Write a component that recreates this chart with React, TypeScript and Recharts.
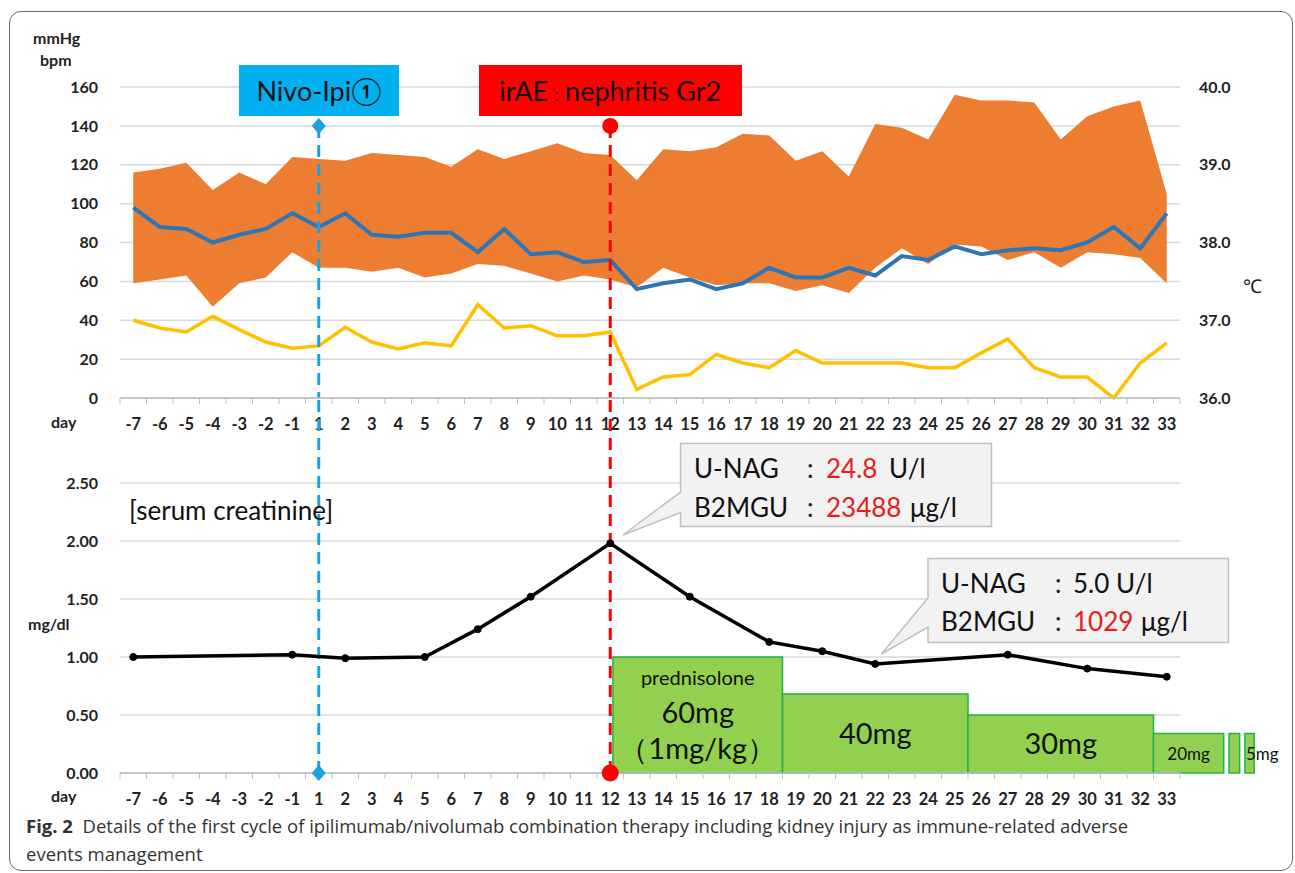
import React from 'react';
import {
  ComposedChart,
  Area,
  Line,
  XAxis,
  YAxis,
  CartesianGrid,
  ReferenceLine,
  ReferenceDot,
  ReferenceArea,
} from 'recharts';

// x axis: hospital days (there is no day 0)
const days = [
  -7, -6, -5, -4, -3, -2, -1, 1, 2, 3, 4, 5, 6, 7, 8, 9, 10, 11, 12, 13,
  14, 15, 16, 17, 18, 19, 20, 21, 22, 23, 24, 25, 26, 27, 28, 29, 30, 31, 32, 33,
];

// mmHg
const systolic = [
  116, 118, 121, 107, 116, 110, 124, 123, 122, 126, 125, 124, 119, 128, 123, 127, 131, 126, 125, 112,
  128, 127, 129, 136, 135, 122, 127, 114, 141, 139, 133, 156, 153, 153, 152, 133, 145, 150, 153, 105,
];
const diastolic = [
  59, 61, 63, 47, 59, 62, 75, 67, 67, 65, 67, 62, 64, 69, 68, 64, 60, 63, 61, 57,
  67, 62, 58, 59, 59, 55, 58, 54, 67, 77, 69, 79, 78, 71, 75, 67, 75, 74, 72, 59,
];
// bpm
const pulse = [
  98, 88, 87, 80, 84, 87, 95, 88, 95, 84, 83, 85, 85, 75, 87, 74, 75, 70, 71, 56,
  59, 61, 56, 59, 67, 62, 62, 67, 63, 73, 71, 78, 74, 76, 77, 76, 80, 88, 77, 95,
];
// ℃
const temperature = [
  37.0, 36.9, 36.85, 37.05, 36.88, 36.72, 36.64, 36.67, 36.91, 36.72, 36.63, 36.71, 36.67, 37.2, 36.9, 36.93, 36.8, 36.8, 36.85, 36.11,
  36.27, 36.3, 36.56, 36.45, 36.39, 36.61, 36.45, 36.45, 36.45, 36.45, 36.39, 36.39, 36.58, 36.76, 36.39, 36.27, 36.27, 36.0, 36.45, 36.71,
];

// serum creatinine, mg/dl
const creatDays = [-7, -1, 2, 5, 7, 9, 12, 15, 18, 20, 22, 27, 30, 33];
const creatValues = [1.0, 1.02, 0.99, 1.0, 1.24, 1.52, 1.98, 1.52, 1.13, 1.05, 0.94, 1.02, 0.9, 0.83];

// prednisolone taper (day spans, block heights on the mg/dl scale)
const steroidLabels = ['60mg', '40mg', '30mg', '20mg', '', '5mg'];
const steroidFrom = [12.1, 18.5, 25.5, 32.5, 35.35, 35.95];
const steroidTo = [18.5, 25.5, 32.5, 35.15, 35.75, 36.3];
const steroidLevel = [1.0, 0.68, 0.5, 0.34, 0.34, 0.34];

const eventDays = [1, 12];
const eventLabels = ['Nivo-Ipi①', 'irAE：nephritis Gr2'];
const eventColors = ['#1ba1e2', '#ff0000'];

const bpTicks = [0, 20, 40, 60, 80, 100, 120, 140, 160];
const tempTicks = [36, 37, 38, 39, 40];
const creatTicks = [0, 0.5, 1, 1.5, 2, 2.5];

const FONT = "Lato, 'Noto Sans', sans-serif";
const W = 1295;
const PLOT_L = 120;
const PLOT_R = 1180;
const BAND = (PLOT_R - PLOT_L) / days.length;

const pos = (d: number) => (d < 0 ? d + 7 : d + 6);
const xPix = (d: number) => PLOT_L + BAND * (pos(d) + 0.5);

const vitalRows = days.map((d, i) => ({
  pos: i,
  bp: [diastolic[i], systolic[i]],
  pulse: pulse[i],
  temp: temperature[i],
}));

const creatRows = days.map((d, i) => {
  const k = creatDays.indexOf(d);
  return { pos: i, creat: k >= 0 ? creatValues[k] : null };
});

const DayTick = (props: any) => {
  const { x, y, payload } = props;
  const i = payload.value;
  const axisY = y - 6;
  return (
    <g>
      <line x1={x - BAND / 2} x2={x - BAND / 2} y1={axisY} y2={axisY + 6} stroke="#bfbfbf" />
      {i === days.length - 1 && (
        <line x1={x + BAND / 2} x2={x + BAND / 2} y1={axisY} y2={axisY + 6} stroke="#bfbfbf" />
      )}
      <text x={x} y={axisY + 32} textAnchor="middle" fontFamily={FONT} fontWeight="bold" fontSize={16.5} fill="#222">
        {days[i]}
      </text>
    </g>
  );
};

const axisTick = { fontFamily: FONT, fontWeight: 'bold' as const, fontSize: 16, fill: '#222' };

const diamond = (color: string) => (p: any) => (
  <polygon
    points={`${p.cx},${p.cy - 8} ${p.cx + 7},${p.cy} ${p.cx},${p.cy + 8} ${p.cx - 7},${p.cy}`}
    fill={color}
  />
);

const BlockText = ({ viewBox, label }: any) => {
  const { x, y, width, height } = viewBox;
  const cx = x + width / 2;
  if (label === '60mg') {
    return (
      <g fontFamily={FONT} fill="#111" textAnchor="middle">
        <text x={cx} y={y + 28} fontSize={20}>prednisolone</text>
        <text x={cx} y={y + 66} fontSize={29}>60mg</text>
        <text x={cx} y={y + 102} fontSize={29}>（1mg/kg）</text>
      </g>
    );
  }
  if (label === '5mg') {
    return (
      <text x={x + 1} y={y + height / 2 + 7} fontFamily={FONT} fontSize={17} fill="#111">
        {label}
      </text>
    );
  }
  const small = label === '20mg';
  return (
    <text x={cx} y={y + height / 2 + (small ? 7 : 10)} textAnchor="middle" fontFamily={FONT} fontSize={small ? 17 : 29} fill="#111">
      {label}
    </text>
  );
};

const xAxisProps = {
  dataKey: 'pos',
  type: 'number' as const,
  domain: [-0.5, days.length - 0.5],
  ticks: days.map((_, i) => i),
  interval: 0 as const,
  tick: (p: any) => <DayTick {...p} />,
  tickLine: false,
  tickSize: 6,
  tickMargin: 0,
  axisLine: { stroke: '#bfbfbf', strokeWidth: 1.5 },
  height: 40,
  allowDataOverflow: true,
};

const VitalChart = () => (
  <ComposedChart width={W} height={440} data={vitalRows} margin={{ top: 87, right: 35, left: 0, bottom: 2 }}>
    <CartesianGrid vertical={false} stroke="#d9d9d9" strokeWidth={1.5} />
    <XAxis {...xAxisProps} />
    <YAxis domain={[0, 160]} ticks={bpTicks} width={120} tickLine={false} axisLine={false} tickMargin={16} tick={axisTick} />
    <YAxis
      yAxisId="right"
      orientation="right"
      domain={[36, 40]}
      ticks={tempTicks}
      tickFormatter={(v: number) => v.toFixed(1)}
      width={80}
      tickLine={false}
      axisLine={false}
      tickMargin={13}
      tick={axisTick}
    />
    <Area dataKey="bp" type="linear" fill="#ed7d31" fillOpacity={1} stroke="none" isAnimationActive={false} />
    <Line dataKey="pulse" type="linear" stroke="#2e75b6" strokeWidth={4} dot={false} isAnimationActive={false} />
    <Line dataKey="temp" yAxisId="right" type="linear" stroke="#ffc000" strokeWidth={3.5} dot={false} isAnimationActive={false} />
    {eventDays.map((d, k) => (
      <ReferenceLine
        key={`top-line-${d}`}
        segment={[{ x: pos(d), y: 140 }, { x: pos(d), y: 0 }]}
        stroke={eventColors[k]}
        strokeWidth={3}
        strokeDasharray="12 7"
        ifOverflow="visible"
      />
    ))}
    <ReferenceDot x={pos(eventDays[0])} y={140} ifOverflow="visible" shape={diamond(eventColors[0])} />
    <ReferenceDot x={pos(eventDays[1])} y={140} r={8} fill={eventColors[1]} stroke="none" ifOverflow="visible" />
  </ComposedChart>
);

const CreatinineChart = () => (
  <ComposedChart width={W} height={820} data={creatRows} margin={{ top: 483, right: 115, left: 0, bottom: 7 }}>
    <CartesianGrid vertical={false} stroke="#d9d9d9" strokeWidth={1.5} />
    <XAxis {...xAxisProps} />
    <YAxis
      domain={[0, 2.5]}
      ticks={creatTicks}
      tickFormatter={(v: number) => v.toFixed(2)}
      width={120}
      tickLine={false}
      axisLine={false}
      tickMargin={16}
      tick={axisTick}
    />
    {steroidLabels.map((label, k) => (
      <ReferenceArea
        key={`pred-${k}`}
        x1={pos(steroidFrom[k])}
        x2={pos(steroidTo[k])}
        y1={0}
        y2={steroidLevel[k]}
        fill="#92d050"
        fillOpacity={1}
        stroke="#22b14c"
        strokeWidth={1.5}
        ifOverflow="visible"
        label={(p: any) => <BlockText viewBox={p.viewBox} label={label} />}
      />
    ))}
    {eventDays.map((d, k) => (
      <ReferenceLine
        key={`bottom-line-${d}`}
        segment={[{ x: pos(d), y: 0 }, { x: pos(d), y: 3.25 }]}
        stroke={eventColors[k]}
        strokeWidth={3}
        strokeDasharray="12 7"
        ifOverflow="visible"
      />
    ))}
    <Line
      dataKey="creat"
      type="linear"
      connectNulls
      stroke="#000"
      strokeWidth={3.5}
      dot={{ r: 3.5, fill: '#000', stroke: '#000', strokeWidth: 1 }}
      isAnimationActive={false}
    />
    <ReferenceDot x={pos(eventDays[0])} y={0} ifOverflow="visible" shape={diamond(eventColors[0])} />
    <ReferenceDot x={pos(eventDays[1])} y={0} r={8.5} fill={eventColors[1]} stroke="none" ifOverflow="visible" />
  </ComposedChart>
);

const red = '#e3201e';

const Overlay = () => (
  <svg width={W} height={873} style={{ position: 'absolute', left: 0, top: 0, pointerEvents: 'none' }}>
    <g fontFamily={FONT} fontWeight="bold" fontSize={16} fill="#222">
      <text x={33} y={44}>mmHg</text>
      <text x={40} y={66}>bpm</text>
      <text x={51} y={428}>day</text>
      <text x={28} y={630}>mg/dl</text>
      <text x={51} y={802}>day</text>
    </g>
    <text x={1243} y={293} fontFamily={FONT} fontSize={19} fill="#222">℃</text>
    <text x={129} y={520} fontFamily={FONT} fontSize={26} fill="#111">[serum creatinine]</text>

    <path
      d="M680.5,443.5 H991.5 V526.5 H680.5 V512.5 L623,535 L680.5,492 Z"
      fill="#f2f2f2"
      stroke="#bfbfbf"
      strokeWidth={1.5}
    />
    <g fontFamily={FONT} fontSize={26} fill="#111">
      <text y={477.5}>
        <tspan x={694}>U-NAG</tspan>
        <tspan x={807}>:</tspan>
        <tspan x={826} fill={red}>24.8</tspan>
        <tspan x={889}>U/l</tspan>
      </text>
      <text y={516.5}>
        <tspan x={694}>B2MGU</tspan>
        <tspan x={807}>:</tspan>
        <tspan x={826} fill={red}>23488</tspan>
        <tspan x={910}>μg/l</tspan>
      </text>
    </g>

    <path
      d="M928,558.5 H1228.5 V642.5 H928 V627 L881.5,654 L928,598 Z"
      fill="#f2f2f2"
      stroke="#bfbfbf"
      strokeWidth={1.5}
    />
    <g fontFamily={FONT} fontSize={26} fill="#111">
      <text y={592.5}>
        <tspan x={941}>U-NAG</tspan>
        <tspan x={1055}>:</tspan>
        <tspan x={1073}>5.0 U/l</tspan>
      </text>
      <text y={631}>
        <tspan x={941}>B2MGU</tspan>
        <tspan x={1055}>:</tspan>
        <tspan x={1073} fill={red}>1029</tspan>
        <tspan x={1141}>μg/l</tspan>
      </text>
    </g>
  </svg>
);

const EventBox = ({ k, width }: { k: number; width: number }) => {
  const parts = eventLabels[k].split('：');
  return (
    <div
      style={{
        position: 'absolute',
        left: xPix(eventDays[k]) - width / 2,
        top: 65,
        width,
        height: 51,
        background: k === 0 ? '#00b0f0' : '#ff0000',
        color: '#111',
        fontFamily: FONT,
        fontSize: 27,
        lineHeight: '51px',
        textAlign: 'center',
        whiteSpace: 'nowrap',
      }}
    >
      {parts.map((p, j) => (
        <React.Fragment key={j}>
          {j > 0 && <span style={{ fontSize: 17 }}>：</span>}
          {p}
        </React.Fragment>
      ))}
    </div>
  );
};

export default function App() {
  return (
    <div
      style={{
        position: 'absolute',
        left: 0,
        top: 0,
        width: W,
        height: 873,
        background: '#fff',
        overflow: 'hidden',
      }}
    >
      <div
        style={{
          position: 'absolute',
          left: 9,
          top: 11,
          width: 1282,
          height: 858,
          border: '1.5px solid #666',
          borderRadius: 12,
        }}
      />
      <div style={{ position: 'absolute', left: 0, top: 0 }}>
        <VitalChart />
      </div>
      <div style={{ position: 'absolute', left: 0, top: 0 }}>
        <CreatinineChart />
      </div>
      <Overlay />
      <EventBox k={0} width={160} />
      <EventBox k={1} width={263} />
      <div
        style={{
          position: 'absolute',
          left: 26,
          top: 812,
          fontFamily: "'Open Sans', sans-serif",
          fontSize: 18.5,
          lineHeight: '28px',
          color: '#333',
          whiteSpace: 'nowrap',
        }}
      >
        <b>Fig. 2</b>&nbsp; Details of the first cycle of ipilimumab/nivolumab combination therapy including kidney injury as immune-related adverse
        <br />
        events management
      </div>
    </div>
  );
}
